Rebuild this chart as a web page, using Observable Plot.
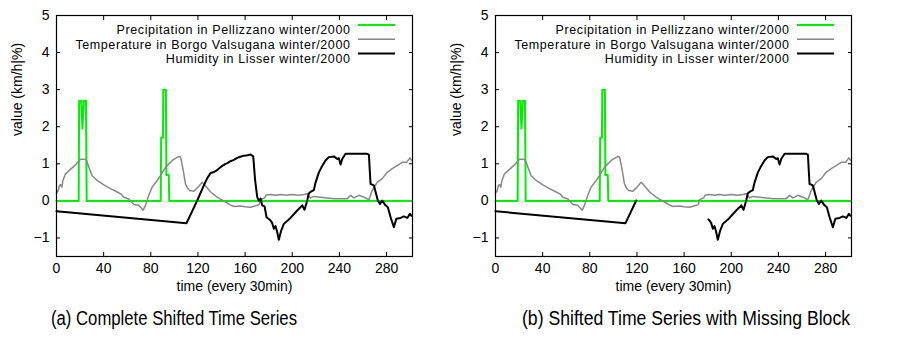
<!DOCTYPE html>
<html><head><meta charset="utf-8">
<script src="https://cdn.jsdelivr.net/npm/d3@7"></script>
<script src="https://cdn.jsdelivr.net/npm/@observablehq/plot@0.6"></script>
<style>
body{margin:0;background:#fff;}
#wrap{position:relative;width:922px;height:344px;overflow:hidden;font-family:"Liberation Sans",Arial,Helvetica,sans-serif;}
.panel{position:absolute;top:0;}
.cap{position:absolute;top:307px;font-size:20px;line-height:22px;white-space:nowrap;transform-origin:0 50%;}
</style></head>
<body><div id="wrap"></div>
<script>
// ---- data ----
const xTicks = [0, 40, 80, 120, 160, 200, 240, 280];
const yTicks = [-1, 0, 1, 2, 3, 4, 5];
const seriesNames = ["Precipitation in Pellizzano winter/2000", "Temperature in Borgo Valsugana winter/2000", "Humidity in Lisser winter/2000"];
const captions = ["(a) Complete Shifted Time Series", "(b) Shifted Time Series with Missing Block"];
const yLabel = "value (km/h|%)";
const xLabel = "time (every 30min)";
const missingBlock = [120, 180.5];

const precipT = [0, 18.8, 19.2, 21, 22, 23.2, 25, 25.6, 88.4, 88.8, 90.3, 90.6, 92.8, 93.2, 95.2, 95.7, 301];
const precipV = [0, 0, 2.7, 2.7, 1.95, 2.7, 2.7, 0, 0, 1.7, 1.7, 3, 3, 0.7, 0.7, 0, 0];

const tempT = [0, 1.5, 2.5, 3.4, 4.5, 5.5, 7.6, 11.9, 16, 20.4, 24.6, 26, 27.4, 30.3, 34.5, 40.2, 45.8, 51.5, 55, 57.1, 61.4, 65.6, 69.8, 73.5, 75.5, 78.3, 81.1, 85.4, 88.2, 92.5, 98.2, 103.8, 104.6, 105.5, 107.5, 109.4, 111, 113.1, 116.5, 119.4, 123.6, 126.4, 130.7, 136.3, 140, 143.4, 147, 150.5, 156.1, 160, 164.6, 170.3, 172, 173, 176.5, 178, 181.6, 186, 190, 195, 200, 205, 210, 212.7, 215.5, 218, 224, 235.3, 246.6, 249.5, 252.3, 256.5, 260.8, 265, 267.8, 272, 276.3, 280.5, 284.8, 289, 293.3, 297, 299.8, 301];
const tempV = [0.21, 0.28, 0.42, 0.44, 0.37, 0.55, 0.73, 0.85, 0.97, 1.12, 1.12, 1.05, 0.91, 0.68, 0.55, 0.43, 0.33, 0.24, 0.18, 0.1, 0.05, -0.1, -0.12, -0.25, -0.12, 0.15, 0.37, 0.55, 0.68, 0.91, 1.09, 1.2, 1.2, 1.15, 0.82, 0.46, 0.35, 0.28, 0.26, 0.35, 0.5, 0.41, 0.24, 0.1, 0.03, -0.03, -0.1, -0.15, -0.14, -0.16, -0.17, -0.12, -0.1, 0.03, 0.08, 0.16, 0.17, 0.15, 0.17, 0.15, 0.17, 0.15, 0.17, 0.19, 0.08, 0.12, 0.1, 0.06, 0.06, 0.15, 0.08, 0.15, 0.1, 0.03, 0.28, 0.5, 0.6, 0.77, 0.87, 0.95, 1.04, 1.04, 1.16, 1.1];

const humT = [0, 110.3, 119.4, 125, 128, 130.7, 133, 134.9, 137, 139.1, 141, 143.4, 145, 147.6, 150, 153.3, 156, 159, 162, 164.6, 166.9, 168.5, 170.3, 171.7, 173.1, 174.5, 176.5, 178.2, 180.6, 181.6, 183, 184.4, 185.8, 187.2, 188.6, 190.6, 192.9, 198.5, 204.2, 208.5, 210.4, 212.7, 214, 215.5, 218.3, 219.8, 222.6, 225.5, 228.2, 231, 235.3, 238.1, 239.5, 241, 242.4, 245.2, 263.6, 265, 266.4, 269.2, 270.7, 272.6, 274.4, 276.3, 279.1, 281.1, 283.4, 286.2, 288.3, 291.9, 294.7, 297.6, 299.8, 301];
const humV = [-0.28, -0.6, 0.01, 0.42, 0.62, 0.75, 0.77, 0.8, 0.85, 0.91, 0.95, 1.0, 1.02, 1.07, 1.1, 1.16, 1.19, 1.22, 1.23, 1.25, 1.2, 0.55, 0.1, 0.0, 0.06, -0.12, -0.15, -0.44, -0.5, -0.53, -0.6, -0.75, -0.68, -0.84, -1.05, -0.8, -0.62, -0.46, -0.26, -0.12, -0.24, 0.01, 0.2, 0.24, 0.29, 0.5, 0.77, 0.95, 1.09, 1.18, 1.2, 1.13, 1.15, 0.98, 1.13, 1.27, 1.27, 1.25, 0.46, 0.42, 0.24, 0.01, -0.08, 0.01, -0.12, -0.17, -0.44, -0.71, -0.48, -0.46, -0.42, -0.46, -0.35, -0.4];

// ---- styles ----
const colors = ["#00ee00", "#888888", "#000000"];
const widths = [2, 1.5, 2];
const FONT = '"Liberation Sans", Arial, Helvetica, sans-serif';
const FS = 14;
const LFS = 12.5;

const precip = precipT.map((t, i) => ({t, v: precipV[i]}));
const temp = tempT.map((t, i) => ({t, v: tempV[i]}));
const humFull = humT.map((t, i) => ({t, v: humV[i]}));
const humGap = humT.map((t, i) => ({t, v: (t > missingBlock[0] && t < missingBlock[1]) ? NaN : humV[i]}));

const W = 439, H = 300, ML = 56, MR = 27, MT = 15, MB = 44;

function panel(hum) {
  const chart = Plot.plot({
    width: W, height: H, marginLeft: ML, marginRight: MR, marginTop: MT, marginBottom: MB,
    style: {fontFamily: FONT, fontSize: FS + "px", background: "transparent", color: "#000", overflow: "visible"},
    x: {domain: [0, 302]},
    y: {domain: [-1.5, 5]},
    marks: [
      Plot.axisX(xTicks, {anchor: "bottom", tickSize: 0, tickPadding: 7, fontSize: FS, label: null}),
      Plot.axisX(xTicks, {anchor: "bottom", tickSize: -4, text: null, label: null}),
      Plot.axisX(xTicks, {anchor: "top", tickSize: -4, text: null, label: null}),
      Plot.axisY(yTicks, {anchor: "left", tickSize: 0, tickPadding: 7, fontSize: FS, label: null}),
      Plot.axisY(yTicks, {anchor: "left", tickSize: -4, text: null, label: null}),
      Plot.axisY(yTicks, {anchor: "right", tickSize: -4, text: null, label: null}),
      Plot.line(precip, {x: "t", y: "v", stroke: colors[0], strokeWidth: widths[0]}),
      Plot.line(temp, {x: "t", y: "v", stroke: colors[1], strokeWidth: widths[1]}),
      Plot.line(hum, {x: "t", y: "v", stroke: colors[2], strokeWidth: widths[2]}),
      Plot.frame({stroke: "#000", strokeWidth: 1.2}),
      Plot.text([yLabel], {frameAnchor: "left", dx: -39, rotate: -90, fontSize: FS}),
      Plot.text([xLabel], {frameAnchor: "bottom", dy: 34, fontSize: FS}),
      ...seriesNames.map((n, i) => Plot.text([n], {frameAnchor: "top-right", dx: -62, dy: 10 + 14.2 * i, textAnchor: "end", fontSize: LFS}))
    ]
  });
  const svg = d3.select(chart);
  // widen legend text slightly to match the reference width
  svg.selectAll("text").filter(function() { return seriesNames.includes(this.textContent); })
    .attr("letter-spacing", "0.6px");
  // legend swatches
  const right = W - MR;
  seriesNames.forEach((n, i) => {
    svg.append("line").attr("x1", right - 54).attr("x2", right - 17)
      .attr("y1", MT + 10 + 14.2 * i).attr("y2", MT + 10 + 14.2 * i)
      .attr("stroke", colors[i]).attr("stroke-width", widths[i]);
  });
  return chart;
}

const wrap = document.getElementById("wrap");
[humFull, humGap].forEach((h, k) => {
  const c = panel(h);
  c.classList.add("panel");
  c.style.left = (k * 439) + "px";
  wrap.appendChild(c);
});
const capCenters = [174, 686];
const capWidths = [246, 328];
captions.forEach((t, k) => {
  const d = document.createElement("div");
  d.className = "cap";
  d.textContent = t;
  wrap.appendChild(d);
  const w = d.getBoundingClientRect().width;
  const s = capWidths[k] / w;
  d.style.left = (capCenters[k] - capWidths[k] / 2) + "px";
  d.style.transform = `scaleX(${s})`;
});
</script>
</body></html>
